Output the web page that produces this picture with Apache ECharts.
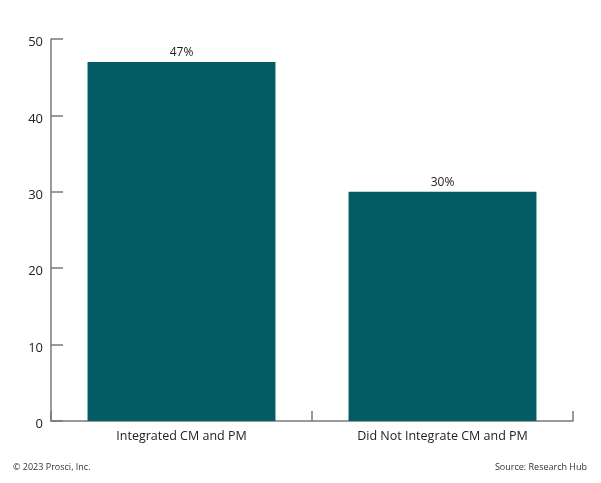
<!DOCTYPE html>
<html><head><meta charset="utf-8">
<script src="https://cdn.jsdelivr.net/npm/echarts@6/dist/echarts.min.js"></script>
<style>html,body{margin:0;padding:0;background:#fff}#c{width:601px;height:483px}</style>
</head><body><div id="c"></div>
<script>
const categories = ["Integrated CM and PM", "Did Not Integrate CM and PM"];
const values = [47, 30];
const yTicks = [0, 10, 20, 30, 40, 50];

const chart = echarts.init(document.getElementById('c'), null, {renderer: 'canvas'});
const axisCol = '#7a7a7a';
const font = '"Open Sans", sans-serif';
chart.setOption({
  animation: false,
  grid: {left: 51, right: 28, top: 39, bottom: 62},
  xAxis: {
    type: 'category', data: categories,
    axisLine: {lineStyle: {color: axisCol, width: 1.5}},
    axisTick: {show: true, inside: true, length: 10, lineStyle: {color: axisCol, width: 1.5}},
    axisLabel: {color: '#222', fontFamily: font, fontSize: 12.5, margin: 9}
  },
  yAxis: {
    type: 'value', min: yTicks[0], max: yTicks[yTicks.length - 1], interval: 10,
    splitLine: {show: false},
    axisLine: {show: true, lineStyle: {color: axisCol, width: 1.5}},
    axisTick: {show: true, inside: true, length: 12, lineStyle: {color: axisCol, width: 1.5}},
    axisLabel: {
      color: '#222', fontFamily: font, fontSize: 13, margin: 8,
      formatter: v => '{a|' + v + '}',
      rich: {a: {color: '#222', fontFamily: font, fontSize: 13, padding: [7, 0, 0, 0]}}
    }
  },
  series: [{
    type: 'bar', data: values, barWidth: '72%',
    itemStyle: {color: '#035c63'},
    label: {show: true, position: 'top', formatter: '{c}%', color: '#222', fontFamily: font, fontSize: 12, distance: 3}
  }],
  graphic: [
    {type: 'text', left: 13, top: 463, style: {text: '© 2023 Prosci, Inc.', fill: '#333', font: '9px "Open Sans", sans-serif'}},
    {type: 'text', right: 14, top: 463, style: {text: 'Source: Research Hub', fill: '#333', font: '9px "Open Sans", sans-serif'}}
  ]
});
</script></body></html>
